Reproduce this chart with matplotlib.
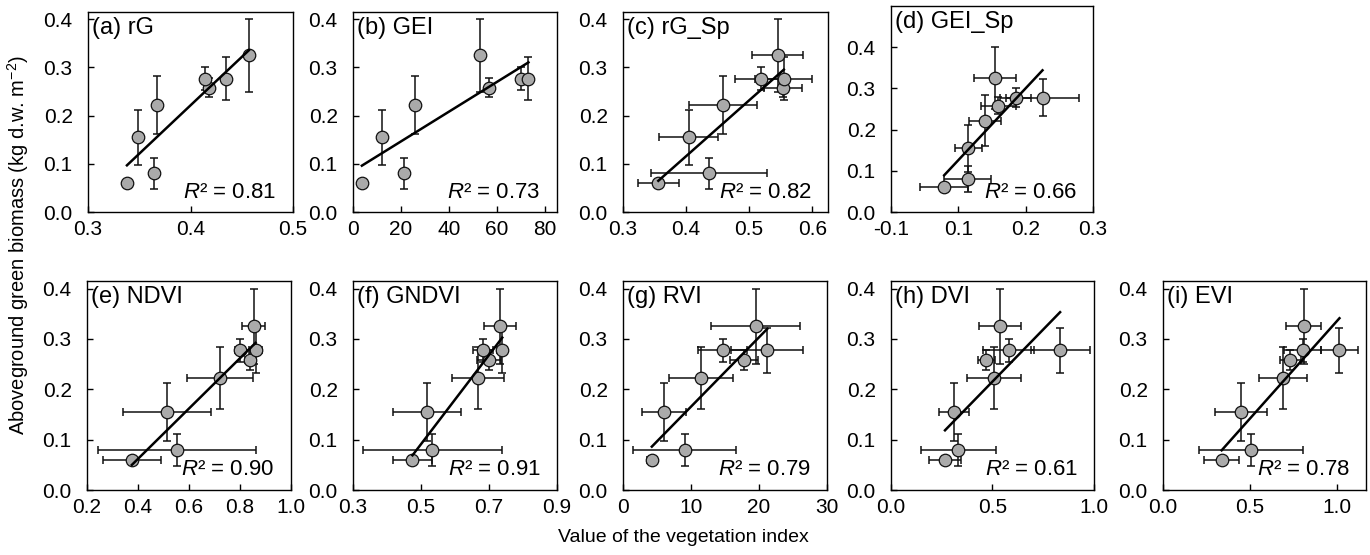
import numpy as np
import matplotlib
matplotlib.use('Agg')
import matplotlib.pyplot as plt

plt.rcParams['font.family'] = ['Liberation Sans', 'DejaVu Sans']
plt.rcParams['mathtext.fontset'] = 'custom'
plt.rcParams['mathtext.rm'] = 'Liberation Sans'
plt.rcParams['mathtext.it'] = 'Liberation Sans:italic'

# ---- data ----
biomass = [0.060, 0.080, 0.155, 0.222, 0.258, 0.277, 0.277, 0.325]
biomass_err = [0.007, 0.032, 0.057, 0.061, 0.020, 0.023, 0.045, 0.075]

rG = [0.338, 0.364, 0.349, 0.367, 0.418, 0.414, 0.435, 0.457]
GEI = [3.7, 21.4, 12.0, 25.8, 56.8, 70.2, 73.1, 53.1]
rG_Sp = [0.356, 0.437, 0.404, 0.458, 0.554, 0.519, 0.555, 0.545]
rG_Sp_err = [0.032, 0.092, 0.047, 0.054, 0.030, 0.041, 0.045, 0.040]
GEI_Sp = [0.079, 0.114, 0.115, 0.140, 0.159, 0.185, 0.225, 0.154]
GEI_Sp_err = [0.036, 0.035, 0.020, 0.024, 0.026, 0.023, 0.054, 0.031]
NDVI = [0.376, 0.554, 0.514, 0.721, 0.839, 0.801, 0.861, 0.854]
NDVI_err = [0.113, 0.310, 0.172, 0.130, 0.020, 0.020, 0.025, 0.045]
GNDVI = [0.475, 0.533, 0.518, 0.667, 0.700, 0.682, 0.739, 0.732]
GNDVI_err = [0.057, 0.204, 0.100, 0.077, 0.035, 0.029, 0.015, 0.047]
RVI = [4.24, 9.06, 6.06, 11.48, 17.73, 14.68, 21.23, 19.5]
RVI_err = [0.7, 7.6, 3.2, 4.7, 2.05, 3.6, 5.3, 6.6]
DVI = [0.266, 0.331, 0.310, 0.508, 0.470, 0.580, 0.833, 0.536]
DVI_err = [0.078, 0.184, 0.076, 0.133, 0.040, 0.125, 0.145, 0.103]
EVI = [0.338, 0.509, 0.447, 0.692, 0.734, 0.806, 1.017, 0.811]
EVI_err = [0.100, 0.300, 0.150, 0.137, 0.060, 0.107, 0.108, 0.100]

panel_titles = ['(a) rG', '(b) GEI', '(c) rG_Sp', '(d) GEI_Sp', '(e) NDVI',
                '(f) GNDVI', '(g) RVI', '(h) DVI', '(i) EVI']
r2_values = ['0.81', '0.73', '0.82', '0.66', '0.90', '0.91', '0.79', '0.61', '0.78']

xticks_list = [[0.3, 0.4, 0.5], [0, 20, 40, 60, 80], [0.3, 0.4, 0.5, 0.6],
               [0.0, 0.1, 0.2, 0.3], [0.2, 0.4, 0.6, 0.8, 1.0], [0.3, 0.5, 0.7, 0.9],
               [0, 10, 20, 30], [0.0, 0.5, 1.0], [0.0, 0.5, 1.0]]
xticklabels_list = [['0.3', '0.4', '0.5'], ['0', '20', '40', '60', '80'],
                    ['0.3', '0.4', '0.5', '0.6'], ['-0.1', '0.1', '0.2', '0.3'],
                    ['0.2', '0.4', '0.6', '0.8', '1.0'], ['0.3', '0.5', '0.7', '0.9'],
                    ['0', '10', '20', '30'], ['0.0', '0.5', '1.0'], ['0.0', '0.5', '1.0']]
yticks = [0.0, 0.1, 0.2, 0.3, 0.4]
yticklabels = ['0.0', '0.1', '0.2', '0.3', '0.4']

x_data = [rG, GEI, rG_Sp, GEI_Sp, NDVI, GNDVI, RVI, DVI, EVI]
x_errs = [None, None, rG_Sp_err, GEI_Sp_err, NDVI_err, GNDVI_err, RVI_err, DVI_err, EVI_err]

# ---- layout (pixels) ----
W, H = 1370, 555
xlims = [(0.3, 0.5), (0, 85), (0.3, 0.625), (0.0, 0.3), (0.2, 1.0), (0.3, 0.9),
         (0, 30), (0.0, 1.0), (0.0, 1.17)]
ylims = [(0, 0.415), (0, 0.415), (0, 0.415), (0, 0.5), (0, 0.415), (0, 0.415),
         (0, 0.415), (0, 0.415), (0, 0.415)]
boxes = [(88, 293, 12, 212), (353, 557, 12, 212), (623, 828, 12, 212), (891, 1093, 6, 212),
         (87, 291, 281, 490), (353, 557, 281, 490), (623, 827, 281, 490),
         (891, 1094, 281, 490), (1163, 1366, 281, 490)]

fig = plt.figure(figsize=(W / 100, H / 100), dpi=100)

for i in range(9):
    l, r, t, b = boxes[i]
    ax = fig.add_axes([l / W, 1 - b / H, (r - l) / W, (b - t) / H])
    x = np.array(x_data[i], dtype=float)
    y = np.array(biomass, dtype=float)
    ax.errorbar(x, y, yerr=biomass_err, xerr=x_errs[i], fmt='none', ecolor='#111111',
                elinewidth=1.1, capsize=2.8, capthick=1.1, zorder=2)
    ax.plot(x, y, 'o', ms=9, mfc='#aaaaaa', mec='#111111', mew=0.9, zorder=3)
    slope, intercept = np.polyfit(x, y, 1)
    xs = np.array([x.min(), x.max()])
    ax.plot(xs, slope * xs + intercept, color='black', lw=1.8, zorder=4)
    ax.set_xlim(*xlims[i])
    ax.set_ylim(*ylims[i])
    ax.set_xticks(xticks_list[i])
    ax.set_xticklabels(xticklabels_list[i])
    ax.set_yticks(yticks)
    ax.set_yticklabels(yticklabels)
    ax.tick_params(direction='in', length=4, width=1.0, labelsize=15,
                   top=False, right=False)
    ax.tick_params(axis='y', pad=11)
    ax.tick_params(axis='x', pad=6)
    for s in ax.spines.values():
        s.set_linewidth(1.0)
    ax.text(0.02, 0.975, panel_titles[i], transform=ax.transAxes, ha='left', va='top',
            fontsize=17)
    ax.text(0.92, 0.07, r'$R$' + '\u00b2 = ' + r2_values[i], transform=ax.transAxes,
            ha='right', va='baseline', fontsize=16)

fig.text(18 / W, 1 - 245 / H, r'Aboveground green biomass (kg d.w. m$^{-2}$)',
         rotation=90, ha='center', va='center', fontsize=14.5)
fig.text(683 / W, 1 - 538 / H, 'Value of the vegetation index', ha='center',
         va='center', fontsize=14)

fig.savefig('out.png', dpi=100)
